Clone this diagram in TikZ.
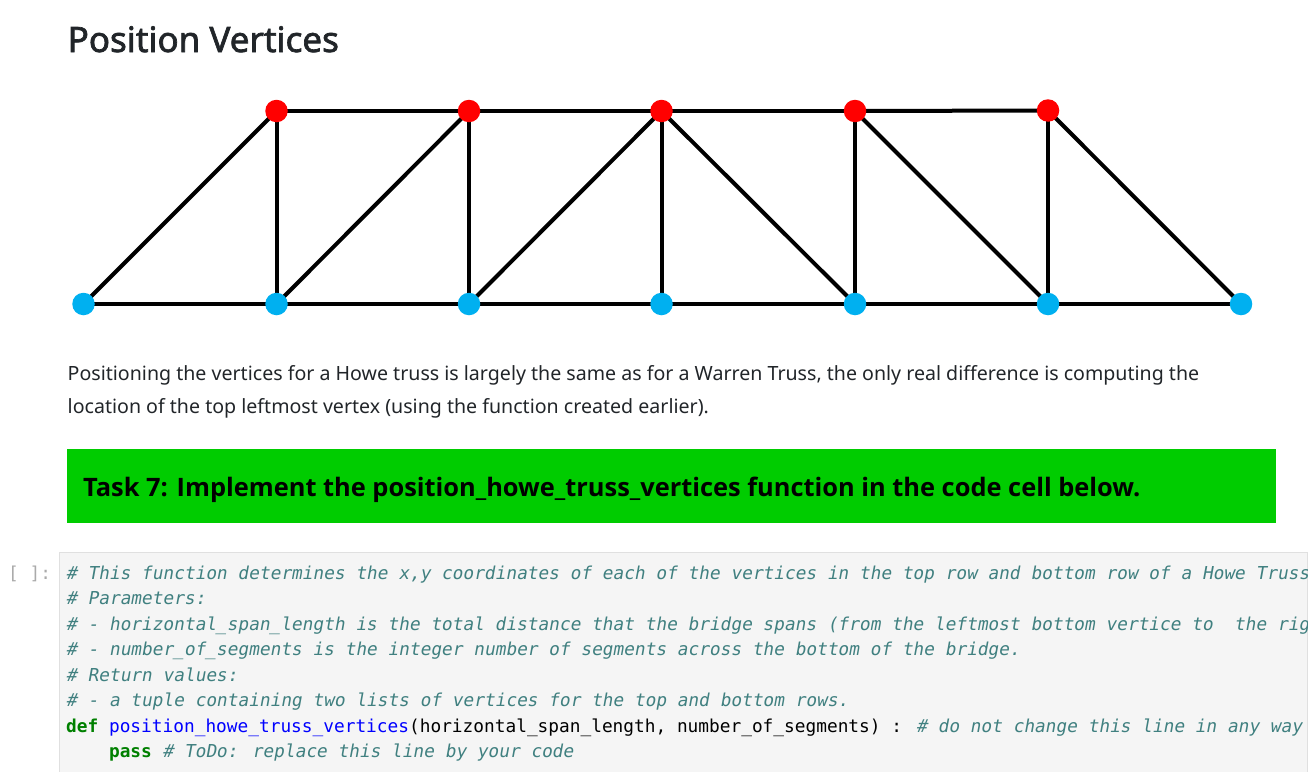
\documentclass[tikz,border=0pt]{standalone}
\usepackage{fontspec}
\setmainfont{Noto Sans}
\newfontfamily\headfont[FakeBold=2]{Noto Sans}
\newfontfamily\taskfont{Open Sans}
\newfontfamily\codefont{DejaVu Sans Mono}
\newfontfamily\codeitfont[FakeSlant=0.18]{DejaVu Sans Mono}
\usetikzlibrary{backgrounds}
\definecolor{taskgreen}{RGB}{0,204,0}
\definecolor{cmt}{RGB}{64,128,128}
\definecolor{kw}{RGB}{0,128,0}
\definecolor{fnc}{RGB}{0,0,255}
\definecolor{vblue}{RGB}{0,176,240}
\definecolor{codebg}{RGB}{245,245,245}
\definecolor{codeborder}{RGB}{224,224,224}
\definecolor{txt}{RGB}{33,37,41}
\definecolor{promptc}{RGB}{170,170,170}
\tikzset{
  x=1pt,y=-1pt,
  topv/.style={circle,fill=red,minimum size=22.5pt,inner sep=0pt},
  botv/.style={circle,fill=vblue,minimum size=22.5pt,inner sep=0pt},
  member/.style={line width=4pt,black},
  heading/.style={anchor=base west,inner sep=0pt,text=txt,font=\headfont\fontsize{35}{40}\selectfont},
  bodytext/.style={anchor=base west,inner sep=0pt,text=txt,font=\fontsize{19.6}{24}\selectfont},
  tasktext/.style={anchor=base west,inner sep=0pt,text=black,font=\taskfont\bfseries\fontsize{25.4}{30}\selectfont},
  codeline/.style={anchor=base west,inner sep=0pt,font=\codefont\fontsize{17.8}{20}\selectfont},
  commentline/.style={anchor=base west,inner sep=0pt,text=cmt,font=\codeitfont\fontsize{17.8}{20}\selectfont},
}
\begin{document}
\begin{tikzpicture}
\useasboundingbox (0,0) rectangle (1314,771);
\node[heading] (title) at (67.5,52) {Position Vertices};
% vertices
\foreach \n/\x/\y in {t1/276.5/111,t2/469/111,t3/661.5/111,t4/855/111,t5/1048/110.5}
  \node[topv] (\n) at (\x,\y) {};
\foreach \n/\x in {b0/83.5,b1/276.5,b2/469,b3/661.5,b4/855,b5/1048,b6/1241}
  \node[botv] (\n) at (\x,304) {};
\begin{scope}[on background layer]
  \foreach \a/\b in {t1/t2,t2/t3,t3/t4,t4/t5,b0/b1,b1/b2,b2/b3,b3/b4,b4/b5,b5/b6,
    b0/t1,b1/t1,b1/t2,b2/t2,b2/t3,b3/t3,t3/b4,t4/b4,t4/b5,t5/b5,t5/b6}
    \draw[member] (\a.center) -- (\b.center);
\end{scope}
\node[bodytext] (p1) at (67.5,380) {Positioning the vertices for a Howe truss is largely the same as for a Warren Truss, the only real difference is computing the};
\node[bodytext] (p2) at (67.5,413) {location of the top leftmost vertex (using the function created earlier).};
\node[draw=none,fill=taskgreen,minimum width=1209pt,minimum height=74pt,inner sep=0pt,anchor=north west] (task) at (67,449) {};
\node[tasktext] (tasklabel) at (83,496) {Task 7: Implement the position\_howe\_truss\_vertices function in the code cell below.};
\node[anchor=north west,fill=codebg,draw=codeborder,line width=1pt,minimum width=1247.5pt,minimum height=225pt,inner sep=0pt] (cell) at (59,552) {};
\node[anchor=base west,inner sep=0pt,text=promptc,font=\codefont\fontsize{17.8}{20}\selectfont] (prompt) at (8,579.5) {[ ]:};
\begin{scope}
\clip (59,552) rectangle (1307,771);
\node[commentline] (c1) at (66,579.5) {\# This function determines the x,y coordinates of each of the vertices in the top row and bottom row of a Howe Truss};
\node[commentline] (c2) at (66,604.5) {\# Parameters:};
\node[commentline] (c3) at (66,630.5) {\# - horizontal\_span\_length is the total distance that the bridge spans (from the leftmost bottom vertice to\ \ the rig};
\node[commentline] (c4) at (66,655.5) {\# - number\_of\_segments is the integer number of segments across the bottom of the bridge.};
\node[commentline] (c5) at (66,681.5) {\# Return values:};
\node[commentline] (c6) at (66,706.5) {\# - a tuple containing two lists of vertices for the top and bottom rows.};
\node[codeline] (c7) at (66,732.5) {\textcolor{kw}{\bfseries def} \textcolor{fnc}{position\_howe\_truss\_vertices}(horizontal\_span\_length, number\_of\_segments) : \textcolor{cmt}{\codeitfont\# do not change this line in any way}};
\node[codeline] (c8) at (66,757.5) {\phantom{def }\textcolor{kw}{\bfseries pass} \textcolor{cmt}{\codeitfont\# ToDo: replace this line by your code}};
\end{scope}
\end{tikzpicture}
\end{document}
